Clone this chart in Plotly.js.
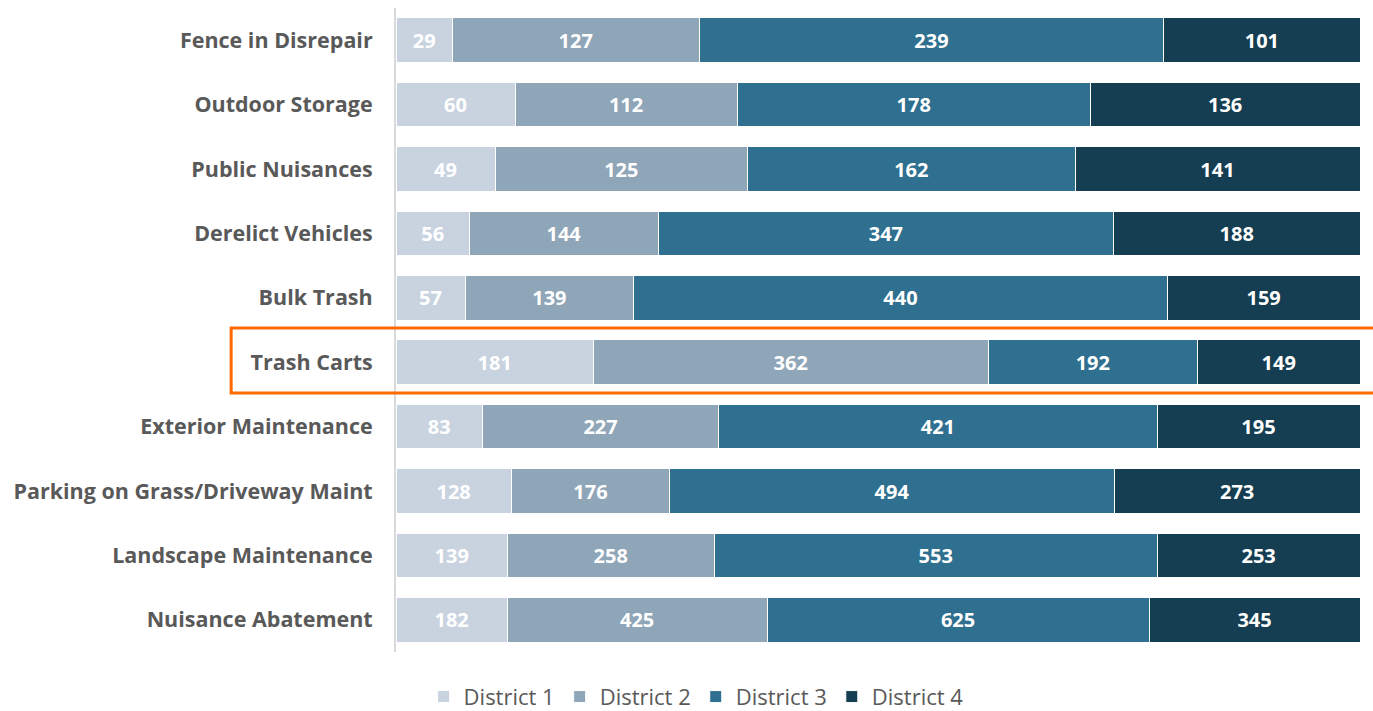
<!DOCTYPE html>
<html><head><meta charset="utf-8">
<script src="https://cdn.plot.ly/plotly-3.0.1.min.js"></script>
<style>html,body{margin:0;padding:0;background:#fff}#c{width:1373px;height:711px}</style>
</head><body><div id="c"></div>
<script>
const categories = ["Fence in Disrepair","Outdoor Storage","Public Nuisances","Derelict Vehicles","Bulk Trash","Trash Carts","Exterior Maintenance","Parking on Grass/Driveway Maint","Landscape Maintenance","Nuisance Abatement"];
const district1 = [29,60,49,56,57,181,83,128,139,182];
const district2 = [127,112,125,144,139,362,227,176,258,425];
const district3 = [239,178,162,347,440,192,421,494,553,625];
const district4 = [101,136,141,188,159,149,195,273,253,345];
const seriesNames = ["District 1","District 2","District 3","District 4"];
const colors = ["#C8D3DF","#8FA5B8","#2F6F8F","#153E52"];
const series = [district1,district2,district3,district4];
const FONT = 'Open Sans, Liberation Sans, Arial, sans-serif';
const traces = series.map((vals,i)=>({
  type:'bar', orientation:'h', name:seriesNames[i],
  x:vals, y:categories, text:vals.map(String), texttemplate:'%{text}',
  textposition:'inside', insidetextanchor:'middle', textangle:0, constraintext:'none',
  textfont:{family:FONT, size:20, color:'#FFFFFF', weight:'bold'},
  marker:{color:colors[i], line:{color:'#FFFFFF', width:1}},
  hoverinfo:'skip'
}));
const layout = {
  width:1373, height:711, barmode:'stack', barnorm:'percent', bargap:0.31,
  margin:{l:396,r:13,t:8,b:59}, paper_bgcolor:'#fff', plot_bgcolor:'#fff',
  font:{family:FONT, color:'#595959'},
  xaxis:{visible:false, range:[0,100], fixedrange:true},
  yaxis:{autorange:'reversed', type:'category', showline:true, linecolor:'#D9D9D9', linewidth:2,
    ticks:'', ticklabelstandoff:17, showgrid:false,
    tickfont:{size:21.5, color:'#595959', weight:'bold', family:FONT}},
  showlegend:true,
  legend:{orientation:'h', x:0.507, xref:'container', xanchor:'center', y:0.02, yref:'container', yanchor:'middle',
    font:{size:22, color:'#595959'}, traceorder:'normal', itemwidth:30},
  shapes:[{type:'rect', xref:'paper', yref:'paper', x0:-0.171, x1:1.02, y0:0.402, y1:0.503,
    line:{color:'#FF6A00', width:3}, fillcolor:'rgba(0,0,0,0)'}]
};
Plotly.newPlot('c', traces, layout, {displayModeBar:false, staticPlot:true});
</script></body></html>
